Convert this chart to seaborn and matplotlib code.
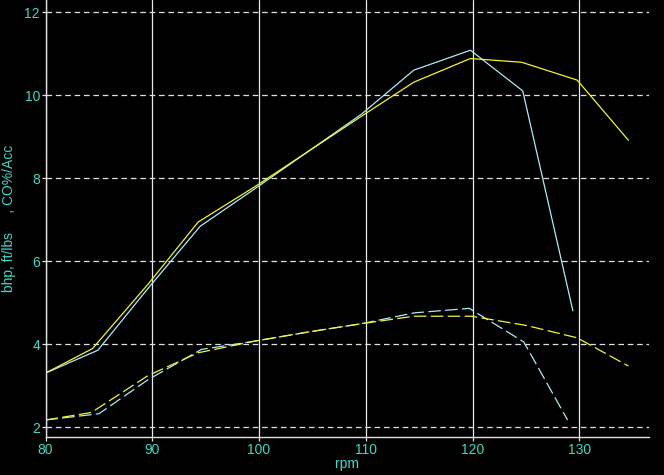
import matplotlib
matplotlib.use("Agg")
import matplotlib.pyplot as plt
import seaborn as sns
import pandas as pd

# --- data ---
rpm_cyan = [80, 84.9, 89.6, 94.5, 99.6, 104.6, 109.6, 114.5, 119.8, 124.7, 129.4]
bhp_cyan = [3.31, 3.86, 5.35, 6.85, 7.75, 8.65, 9.55, 10.61, 11.09, 10.11, 4.81]

rpm_yellow = [80, 84.4, 89.6, 94.3, 99.6, 104.6, 109.6, 114.5, 119.8, 124.6, 129.8, 134.6]
bhp_yellow = [3.31, 3.90, 5.45, 6.95, 7.80, 8.65, 9.50, 10.32, 10.89, 10.80, 10.37, 8.92]

rpm_cyan_tq = [80, 85.0, 89.6, 94.6, 99.6, 104.6, 109.6, 114.5, 119.7, 124.8, 128.9]
tq_cyan = [2.18, 2.33, 3.15, 3.88, 4.08, 4.30, 4.50, 4.76, 4.87, 4.06, 2.18]

rpm_yellow_tq = [80, 84.3, 89.6, 94.3, 99.6, 104.6, 109.6, 114.5, 119.9, 125.0, 129.8, 134.6]
tq_yellow = [2.18, 2.36, 3.25, 3.80, 4.08, 4.30, 4.50, 4.68, 4.68, 4.46, 4.16, 3.48]

x_ticks = [80, 90, 100, 110, 120, 130]
y_ticks = [2, 4, 6, 8, 10, 12]

CYAN = "#a8ecf4"
YELLOW = "#f4f430"
LABEL = "#40d8c8"

sns.set_theme(style="dark")
plt.rcParams["font.family"] = ["Liberation Sans Narrow", "Liberation Sans", "DejaVu Sans"]

fig = plt.figure(figsize=(6.64, 4.75), dpi=100, facecolor="black")
ax = fig.add_axes([45.5 / 664, 38 / 475, (648.7 - 45.5) / 664, 1 - 38 / 475])
ax.set_facecolor("black")

# grid
for xv in x_ticks:
    ax.axvline(xv, color="#e8e8e8", lw=0.9, zorder=0)
for yv in y_ticks:
    ax.axhline(yv, color="#e0e0e0", lw=0.9, ls=(0, (4.5, 3)), zorder=0)

df1 = pd.DataFrame({"rpm": rpm_cyan, "v": bhp_cyan})
df2 = pd.DataFrame({"rpm": rpm_yellow, "v": bhp_yellow})
df3 = pd.DataFrame({"rpm": rpm_cyan_tq, "v": tq_cyan})
df4 = pd.DataFrame({"rpm": rpm_yellow_tq, "v": tq_yellow})

sns.lineplot(data=df1, x="rpm", y="v", ax=ax, color=CYAN, lw=0.9, sort=False)
sns.lineplot(data=df2, x="rpm", y="v", ax=ax, color=YELLOW, lw=0.9, sort=False)
l3 = sns.lineplot(data=df3, x="rpm", y="v", ax=ax, color=CYAN, lw=0.9, sort=False).lines[-1]
l3.set_dashes((10, 3.5))
l4 = sns.lineplot(data=df4, x="rpm", y="v", ax=ax, color=YELLOW, lw=0.9, sort=False).lines[-1]
l4.set_dashes((10, 3.5))

ax.set_xlim(80, 136.5)
ax.set_ylim(1.77, 12.3)
ax.set_xticks(x_ticks)
ax.set_yticks(y_ticks)
ax.grid(False)

for s in ["top", "right"]:
    ax.spines[s].set_visible(False)
for s in ["left", "bottom"]:
    ax.spines[s].set_visible(True)
    ax.spines[s].set_color("#e0e0e0")
    ax.spines[s].set_linewidth(1.0)

ax.tick_params(axis="both", colors="#e0e0e0", labelcolor=LABEL, labelsize=10,
               length=3, width=0.9, direction="out", left=True, bottom=True, pad=1)

ax.set_xlabel("rpm", color=LABEL, fontsize=10, labelpad=0)
ax.set_ylabel("bhp, ft/lbs     , CO%/Acc", color=LABEL, fontsize=10, labelpad=6)

fig.savefig("out.png", dpi=100, facecolor="black")
